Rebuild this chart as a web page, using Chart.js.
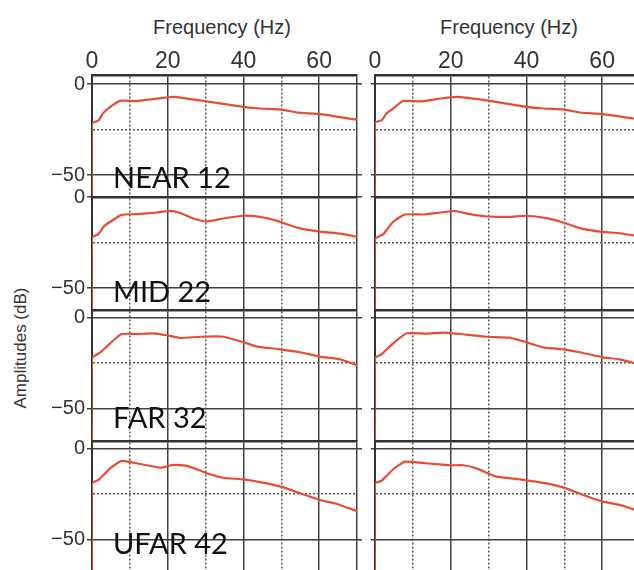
<!DOCTYPE html>
<html><head><meta charset="utf-8">
<script src="https://cdn.jsdelivr.net/npm/chart.js@4/dist/chart.umd.min.js"></script>
<style>
html,body{margin:0;padding:0;background:#fff;width:634px;height:570px;overflow:hidden;position:relative}
canvas{position:absolute}
.t{position:absolute;font-family:"Liberation Sans",Arial,sans-serif;color:#333;white-space:nowrap;font-size:20px;line-height:20px}
.p{position:absolute;font-family:Lato,"Open Sans",sans-serif;font-size:29px;line-height:29px;color:#111;z-index:5;white-space:nowrap}
</style></head><body>
<div class="t" style="left:222px;top:17px;transform:translateX(-50%)">Frequency (Hz)</div>
<div class="t" style="left:509px;top:17px;transform:translateX(-50%)">Frequency (Hz)</div>
<div class="t" style="left:20px;top:348px;font-size:17px;line-height:17px;transform:translate(-50%,-50%) rotate(-90deg)">Amplitudes (dB)</div>
<div class="p" style="left:113px;top:162px">NEAR 12</div>
<div class="p" style="left:113px;top:276px">MID 22</div>
<div class="p" style="left:113px;top:402px">FAR 32</div>
<div class="p" style="left:113px;top:528px">UFAR 42</div>
<script>
// tick values
const freqTicks = [0, 10, 20, 30, 40, 50, 60, 70];
const ampTicks = [-50, -25, 0];
const ampLabelTicks = [-50, 0];

// NEAR 12
const nearLeftHz = [0, 0, 1.7, 3.0, 4.8, 7.4, 11.8, 16.2, 21.5, 29.4, 40, 44.4, 49.7, 54.2, 60.3, 70];
const nearLeftDb = [-80, -21.6, -20, -15.8, -12.5, -9.2, -9.3, -8.2, -7.0, -9.2, -12.5, -13.4, -13.9, -15.6, -16.5, -19.6];
const nearRightHz = [0, 0, 1.8, 3.0, 4.8, 7.4, 11.9, 16.3, 21.6, 30.3, 40, 44.4, 49.7, 54.1, 60.2, 68.3, 70];
const nearRightDb = [-80, -21.2, -19.8, -16.2, -13.4, -9.3, -9.5, -8.2, -7.0, -9.2, -12.5, -13.4, -13.9, -15.6, -16.5, -18.9, -19.4];
// MID 22
const midLeftHz = [0, 0, 1.7, 3.0, 4.8, 7.8, 11.8, 17.1, 20.6, 23.3, 26.8, 30.3, 34.7, 40, 44.4, 48.9, 54.2, 60.3, 65.6, 70];
const midLeftDb = [-80, -22.3, -20.4, -16.5, -13.6, -9.8, -9.4, -8.5, -7.6, -8.8, -11.8, -13.4, -11.8, -10.3, -10.9, -13.1, -16.8, -19, -20.1, -21.9];
const midRightHz = [0, 0, 2.2, 4.8, 7.9, 12.7, 17.2, 21.1, 25.1, 29.5, 35.6, 40, 45.3, 49.7, 54.1, 59.4, 64.6, 70];
const midRightDb = [-80, -23.2, -20.4, -13.6, -9.6, -9.6, -8.5, -7.7, -9.4, -10.7, -10.9, -10.3, -11.6, -14, -17.1, -19, -19.9, -21.5];
// FAR 32
const farLeftHz = [0, 0, 2.1, 4.8, 7.8, 11.8, 16.2, 19.8, 23.3, 28.6, 34.7, 40, 43.6, 49.7, 55, 60.3, 65.6, 70];
const farLeftDb = [-80, -22.5, -19.4, -14.3, -9.2, -9.2, -8.8, -9.9, -11.4, -10.7, -10.7, -13.7, -16.1, -17.6, -19.2, -21.6, -23.1, -26.4];
const farRightHz = [0, 0, 1.8, 4.8, 8.4, 13.6, 18, 22.4, 29.5, 35.6, 40, 44.4, 49.7, 54.1, 60.2, 64.6, 70];
const farRightDb = [-80, -22.5, -20.2, -14.3, -8.8, -9, -8.4, -9.2, -10.7, -11.2, -13.7, -16.5, -17.6, -19.2, -22, -23.1, -26];
// UFAR 42
const ufarLeftHz = [0, 0, 1.7, 4.8, 7.8, 11.8, 18, 21.5, 25, 30.3, 34.7, 40, 46.2, 50.6, 55, 60.3, 64.7, 70];
const ufarLeftDb = [-80, -19, -17.1, -10.7, -6.6, -7.9, -10.3, -8.8, -9.2, -13.4, -15.9, -16.8, -19, -21.2, -24.5, -28.2, -30.4, -34.3];
const ufarRightHz = [0, 0, 1.8, 4.8, 7.9, 13.6, 19.8, 23.3, 26.8, 32.1, 38.3, 45.3, 49.7, 55, 60.2, 64.6, 70];
const ufarRightDb = [-80, -19, -17.5, -11.2, -7, -7.9, -9, -9, -10.7, -15.3, -16.8, -19, -21.2, -25.4, -29.1, -30.9, -34.5];

const cols = {
  L: {left: 40, width: 325, yW: 52, showY: true, tickLen: 5},
  R: {left: 360, width: 288, yW: 15, showY: false, tickLen: 4}
};
const rows = [
  {top: 40, xH: 35, height: 157, max: 5, min: -62, showX: true},
  {top: 178, xH: 19, height: 131, max: 0, min: -61.5, showX: false},
  {top: 306, xH: 4, height: 135, max: 4, min: -68, showX: false},
  {top: 437, xH: 4, height: 138, max: 4.4, min: -69.6, showX: false}
];
const panels = [
  [0, 'L', nearLeftHz, nearLeftDb], [0, 'R', nearRightHz, nearRightDb],
  [1, 'L', midLeftHz, midLeftDb], [1, 'R', midRightHz, midRightDb],
  [2, 'L', farLeftHz, farLeftDb], [2, 'R', farRightHz, farRightDb],
  [3, 'L', ufarLeftHz, ufarLeftDb], [3, 'R', ufarRightHz, ufarRightDb]
];

const SOLID = '#454040', DOT = '#5e5450';
const xDotted = v => v % 20 === 10 && v !== 70;
const yDotted = v => v === -25;
const noPad = s => { s.paddingTop = 0; s.paddingBottom = 0; s.paddingLeft = 0; s.paddingRight = 0; };

panels.forEach(([ri, ci, hz, db]) => {
  const r = rows[ri], c = cols[ci];
  const cv = document.createElement('canvas');
  cv.width = c.width; cv.height = r.height;
  cv.style.left = c.left + 'px'; cv.style.top = r.top + 'px';
  cv.style.width = c.width + 'px'; cv.style.height = r.height + 'px';
  document.body.appendChild(cv);
  new Chart(cv, {
    type: 'line',
    data: {
      datasets: [{
        data: hz.map((x, i) => ({x: x, y: db[i]})),
        borderColor: '#e84c35', borderWidth: 2.2, pointRadius: 0, tension: 0.15, fill: false
      }]
    },
    options: {
      responsive: false, animation: false, devicePixelRatio: 1,
      layout: {padding: {left: 0, right: 3, top: 0, bottom: 0}},
      plugins: {legend: {display: false}, tooltip: {enabled: false}},
      scales: {
        x: {
          type: 'linear', position: 'top', min: 0, max: 70,
          afterBuildTicks: s => { s.ticks = freqTicks.map(v => ({value: v})); },
          afterFit: s => { s.height = r.xH; noPad(s); },
          ticks: {
            display: r.showX, autoSkip: false, maxRotation: 0, minRotation: 0, padding: 1,
            color: '#333', font: {family: '"Liberation Sans", Arial, sans-serif', size: 23, lineHeight: 1.05},
            callback: v => (v % 20 === 0 && v < 70) ? String(v) : ''
          },
          grid: {
            drawTicks: false, lineWidth: 1.5,
            color: ctx => xDotted(ctx.tick.value) ? DOT : SOLID
          },
          border: {
            display: true, color: '#333', width: 2.5,
            dash: ctx => (ctx.type === 'tick' && ctx.tick && xDotted(ctx.tick.value)) ? [2, 2] : []
          }
        },
        y: {
          type: 'linear', position: 'left', min: r.min, max: r.max,
          afterBuildTicks: s => { s.ticks = ampTicks.map(v => ({value: v})); },
          afterFit: s => { s.width = c.yW; noPad(s); },
          ticks: {
            display: c.showY, autoSkip: false, padding: 2, color: '#333',
            font: {family: '"Liberation Sans Narrow", "Liberation Sans", Arial, sans-serif', size: 20},
            callback: v => v === 0 ? '0' : (v === -50 ? '\u221250' : '')
          },
          grid: {
            drawTicks: true, tickLength: c.tickLen, lineWidth: 1.5,
            color: ctx => yDotted(ctx.tick.value) ? DOT : SOLID,
            tickColor: ctx => yDotted(ctx.tick.value) ? 'rgba(0,0,0,0)' : SOLID
          },
          border: {
            display: true, color: '#333', width: 2,
            dash: ctx => (ctx.type === 'tick' && ctx.tick && yDotted(ctx.tick.value)) ? [2, 2] : []
          }
        },
        y2: {
          type: 'linear', position: 'right', min: r.min, max: r.max,
          afterBuildTicks: s => { s.ticks = ampLabelTicks.map(v => ({value: v})); },
          afterFit: s => { s.width = 5; noPad(s); },
          ticks: {display: false},
          grid: {drawOnChartArea: false, drawTicks: true, tickLength: 5, lineWidth: 1.5, color: SOLID},
          border: {display: false}
        }
      }
    }
  });
});
</script>
</body></html>
